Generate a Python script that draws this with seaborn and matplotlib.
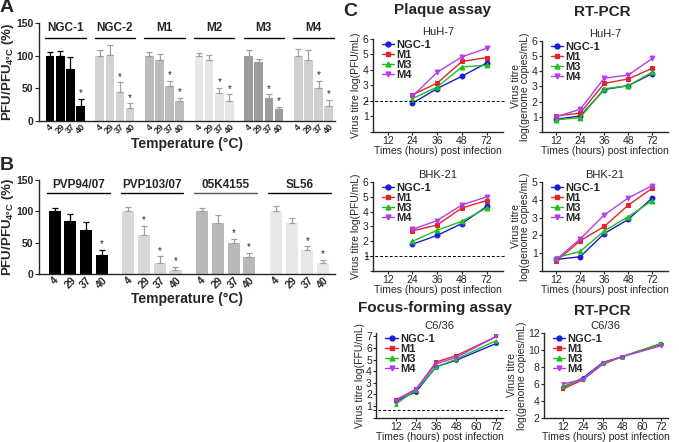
import numpy as np
import pandas as pd
import matplotlib
matplotlib.use('Agg')
import matplotlib.pyplot as plt
import seaborn as sns
from matplotlib import font_manager
from matplotlib.lines import Line2D

# ---- data: panel A (relative plaque numbers, %) ----
temps = ['4', '29', '37', '40']
groups_a = ['NGC-1', 'NGC-2', 'M1', 'M2', 'M3', 'M4']
values_a = [[100, 99, 80, 23], [100, 101, 45, 20], [100, 94, 54, 30],
            [100, 93, 43, 31], [100, 91, 36, 19], [100, 93, 51, 23]]
errors_a = [[6, 8, 18, 11], [8, 16, 14, 7], [5, 8, 7, 5],
            [4, 8, 8, 10], [8, 4, 5, 3], [10, 15, 10, 9]]
stars_a = [[0, 0, 0, 1], [0, 0, 1, 1], [0, 0, 1, 1],
           [0, 0, 1, 1], [0, 0, 1, 1], [0, 0, 1, 1]]
colors_a = ['#000000', '#d2d2d2', '#bcbcbc', '#e6e6e6', '#9c9c9c', '#d0d0d0']

# ---- data: panel B ----
groups_b = ['PVP94/07', 'PVP103/07', '05K4155', 'SL56']
values_b = [[100, 85, 71, 30], [100, 63, 18, 7], [100, 82, 50, 27], [100, 82, 38, 17]]
errors_b = [[6, 10, 12, 9], [7, 14, 10, 4], [5, 12, 6, 7], [8, 8, 6, 6]]
stars_b = [[0, 0, 0, 1], [0, 1, 1, 1], [0, 0, 1, 1], [0, 0, 1, 1]]
colors_b = ['#000000', '#d8d8d8', '#b8b8b8', '#e8e8e8']
linecol_b = ['#000000', '#000000', '#555555', '#000000']

# ---- data: panel C (virus titres, log) ----
strains = ['NGC-1', 'M1', 'M3', 'M4']
line_colors = ['#1a1ad8', '#e3242b', '#1fbf1f', '#b43cf0']
markers = ['o', 's', '^', 'v']
times = ['12', '24', '36', '48', '72']
times_late = ['24', '36', '48', '72']
hours = [12, 24, 36, 48, 72]

plaque_huh7 = [[1.85, 2.8, 3.6, 4.45], [2.4, 3.15, 4.55, 4.8],
               [2.15, 2.9, 4.2, 4.3], [2.3, 3.85, 4.85, 5.4]]
pcr_huh7 = [[0.85, 1.05, 2.8, 3.05, 3.85], [1.05, 1.25, 3.2, 3.5, 4.2],
            [0.8, 0.95, 2.85, 3.05, 3.95], [1.0, 1.5, 3.55, 3.75, 4.85]]
plaque_bhk = [[1.8, 2.4, 3.2, 4.35], [2.7, 3.1, 4.25, 4.75],
              [2.0, 2.75, 3.35, 4.25], [2.8, 3.4, 4.45, 5.0]]
pcr_bhk = [[0.65, 0.8, 2.1, 2.9, 4.1], [0.55, 1.7, 2.5, 3.7, 4.65],
           [0.75, 1.1, 2.25, 3.05, 3.95], [0.65, 1.8, 3.15, 4.1, 4.8]]
focus_c636 = [[1.4, 2.25, 4.4, 4.95, 6.4], [1.55, 2.45, 4.8, 5.35, 7.0],
              [1.2, 2.4, 4.35, 5.05, 6.65], [1.45, 2.5, 4.65, 5.2, 7.0]]
pcr_c636 = [[5.6, 6.7, 8.5, 9.2, 10.7], [5.4, 6.5, 8.3, 9.2, 10.7],
            [5.7, 6.6, 8.4, 9.2, 10.8], [6.0, 6.5, 8.5, 9.2, 10.5]]

sns.set_style('ticks')
names = {f.name for f in font_manager.fontManager.ttflist}
main_font = 'Liberation Sans' if 'Liberation Sans' in names else 'DejaVu Sans'
narrow_font = 'Liberation Sans Narrow' if 'Liberation Sans Narrow' in names else main_font
plt.rcParams['font.family'] = [main_font, 'DejaVu Sans']
plt.rcParams['mathtext.fontset'] = 'custom'
plt.rcParams['mathtext.rm'] = main_font
plt.rcParams['mathtext.bf'] = main_font + ':bold'
plt.rcParams['axes.linewidth'] = 1.0

fig = plt.figure(figsize=(6.79, 4.42), dpi=100)


def bar_panel(ax, groups, values, errors, stars, colors, lcolors, step, width, label_y, line_y, tick_size):
    rows = []
    for g, name in enumerate(groups):
        for j, t in enumerate(temps):
            rows.append(dict(pos=g * step + j, group=name, temp=t, value=values[g][j],
                             err=errors[g][j], star=stars[g][j]))
    df = pd.DataFrame(rows)
    sns.barplot(data=df, x='pos', y='value', hue='group', palette=dict(zip(groups, colors)),
                native_scale=True, dodge=False, width=width, errorbar=None,
                legend=False, linewidth=0, ax=ax)
    for g, name in enumerate(groups):
        sub = df[df.group == name]
        ecol = '#000000' if colors[g] == '#000000' else '#a0a0a0'
        ax.errorbar(sub.pos, sub.value, yerr=[np.zeros(len(sub)), sub.err], fmt='none',
                    ecolor=ecol, elinewidth=0.9, capsize=2, capthick=0.9)
        for _, r in sub.iterrows():
            if r.star:
                ax.text(r.pos, r.value + r.err + 1, '*', ha='center', va='bottom', fontsize=7)
        ax.text(sub.pos.mean(), label_y, name, ha='center', va='center', fontsize=8.5,
                fontweight='bold')
        ax.plot([sub.pos.min() - 0.5, sub.pos.max() + 0.5], [line_y, line_y],
                color=lcolors[g], lw=1, clip_on=False)
    ax.set_xticks(df.pos)
    ax.set_xticklabels(df.temp, rotation=45, fontweight='bold', fontsize=tick_size)
    ax.set_ylim(0, 150)
    ax.set_yticks([0, 50, 100, 150])
    ax.set_yticklabels(['0', '50', '100', '150'], fontweight='bold', fontsize=7.5)
    ax.tick_params(axis='x', length=0, pad=1)
    ax.tick_params(axis='y', length=3, pad=1)
    ax.set_xlabel('Temperature (°C)', fontsize=10, fontweight='bold', labelpad=1)
    ax.set_ylabel(r'PFU/PFU$_{\mathbf{4°C}}$ (%)', fontsize=9.5, fontweight='bold', labelpad=0)
    sns.despine(ax=ax)
    return df


ax_a = fig.add_axes([0.0574, 0.7262, 0.4356, 0.2217])
bar_panel(ax_a, groups_a, values_a, errors_a, stars_a, colors_a, ['#000000'] * 6,
          4.9, 0.85, 142, 127, 6.5)
ax_a.set_xlim(-1.1, 5 * 4.9 + 3.6)

ax_b = fig.add_axes([0.0574, 0.380, 0.4356, 0.2127])
bar_panel(ax_b, groups_b, values_b, errors_b, stars_b, colors_b, linecol_b,
          4.7, 0.77, 142, 129, 7.5)
ax_b.set_xlim(-1.0, 3 * 4.7 + 3.75)


def legend_for(ax):
    handles = [Line2D([], [], color=c, marker=m, markersize=3.5, lw=1)
               for c, m in zip(line_colors, markers)]
    ax.legend(handles, strains, loc='upper left', bbox_to_anchor=(0.03, 1.05), frameon=False,
              prop=dict(family=main_font, weight='bold', size=8), handlelength=1.1,
              handletextpad=0.2, labelspacing=0.0, borderaxespad=0.1)


def style_line_axes(ax, ylabel, sub):
    ax.set_xlabel('Times (hours) post infection', fontsize=7.5, labelpad=0, family=narrow_font)
    ax.set_ylabel(ylabel, fontsize=7.5, labelpad=1, family=narrow_font, linespacing=0.9)
    ax.set_title(sub, fontsize=8, pad=3)
    ax.tick_params(labelsize=7.5, length=2.5, width=0.8, pad=0.5)
    for lab in ax.get_xticklabels() + ax.get_yticklabels():
        lab.set_family(narrow_font)
    sns.despine(ax=ax)
    legend_for(ax)


def cat_panel(ax, series, tlist, ylim, yticks, ylabel, sub, lod=None):
    rows = [dict(time=t, titre=v, strain=s)
            for s, vals in zip(strains, series) for t, v in zip(tlist, vals)]
    df = pd.DataFrame(rows)
    sns.pointplot(data=df, x='time', y='titre', hue='strain', order=times, hue_order=strains,
                  palette=line_colors, markers=markers, linestyles='-', errorbar=None,
                  markersize=3.5, linewidth=1, legend=False, ax=ax)
    ax.set_xlim(-0.6, 4.65)
    ax.set_ylim(*ylim)
    ax.set_yticks(yticks)
    ax.set_yticklabels(['' if y == 0 else str(y) for y in yticks])
    if lod is not None:
        ax.plot([-0.9, 4.75], [lod, lod], ls=(0, (3, 2)), color='black', lw=0.7, clip_on=False)
    style_line_axes(ax, ylabel, sub)


def num_panel(ax, series, ylim, yticks, ylabel, sub, lod=None):
    rows = [dict(time=h, titre=v, strain=s)
            for s, vals in zip(strains, series) for h, v in zip(hours, vals)]
    df = pd.DataFrame(rows)
    sns.lineplot(data=df, x='time', y='titre', hue='strain', style='strain',
                 hue_order=strains, style_order=strains, palette=line_colors,
                 markers=markers, dashes=False, markersize=3.5, linewidth=1,
                 markeredgewidth=0, legend=False, ax=ax)
    ax.set_xlim(0, 76)
    ax.set_xticks([12, 24, 36, 48, 60, 72])
    ax.set_ylim(*ylim)
    ax.set_yticks(yticks)
    ax.set_yticklabels(['' if y == 0 else str(y) for y in yticks])
    if lod is not None:
        ax.plot([-2, 80], [lod, lod], ls=(0, (3, 2)), color='black', lw=0.7, clip_on=False)
    style_line_axes(ax, ylabel, sub)


ax1 = fig.add_axes([0.549, 0.7014, 0.1915, 0.2104])
cat_panel(ax1, plaque_huh7, times_late, (0, 6), range(0, 7), 'Virus titre log(PFU/mL)', 'HuH-7', lod=2)
ax2 = fig.add_axes([0.798, 0.7014, 0.1856, 0.2059])
cat_panel(ax2, pcr_huh7, times, (0, 6), range(0, 7),
          'Virus titre\nlog(genome copies/mL)', 'HuH-7')
ax3 = fig.add_axes([0.549, 0.3869, 0.1915, 0.2014])
cat_panel(ax3, plaque_bhk, times_late, (0, 6), range(0, 7), 'Virus titre log(PFU/mL)', 'BHK-21', lod=1)
ax4 = fig.add_axes([0.798, 0.3869, 0.1856, 0.2014])
cat_panel(ax4, pcr_bhk, times, (0, 5), range(0, 6),
          'Virus titre\nlog(genome copies/mL)', 'BHK-21')
ax5 = fig.add_axes([0.5538, 0.055, 0.187, 0.1916])
num_panel(ax5, focus_c636, (0, 7.3), range(0, 8), 'Virus titre log(FFU/mL)', 'C6/36', lod=0.7)
ax6 = fig.add_axes([0.801, 0.055, 0.1826, 0.1916])
num_panel(ax6, pcr_c636, (2, 12), range(2, 13, 2),
          'Virus titre\nlog(genome copies/mL)', 'C6/36')

# titles and panel letters
fig.text(443 / 679, 1 - 10 / 442, 'Plaque assay', ha='center', va='center', fontsize=11, fontweight='bold')
fig.text(602 / 679, 1 - 12 / 442, 'RT-PCR', ha='center', va='center', fontsize=11, fontweight='bold')
fig.text(435 / 679, 1 - 308 / 442, 'Focus-forming assay', ha='center', va='center', fontsize=11, fontweight='bold')
fig.text(602 / 679, 1 - 311 / 442, 'RT-PCR', ha='center', va='center', fontsize=11, fontweight='bold')
fig.text(7 / 679, 1 - 8 / 442, 'A', ha='center', va='center', fontsize=14, fontweight='bold')
fig.text(7 / 679, 1 - 166 / 442, 'B', ha='center', va='center', fontsize=14, fontweight='bold')
fig.text(350 / 679, 1 - 12 / 442, 'C', ha='center', va='center', fontsize=14, fontweight='bold')

fig.savefig('out.png', dpi=100)
